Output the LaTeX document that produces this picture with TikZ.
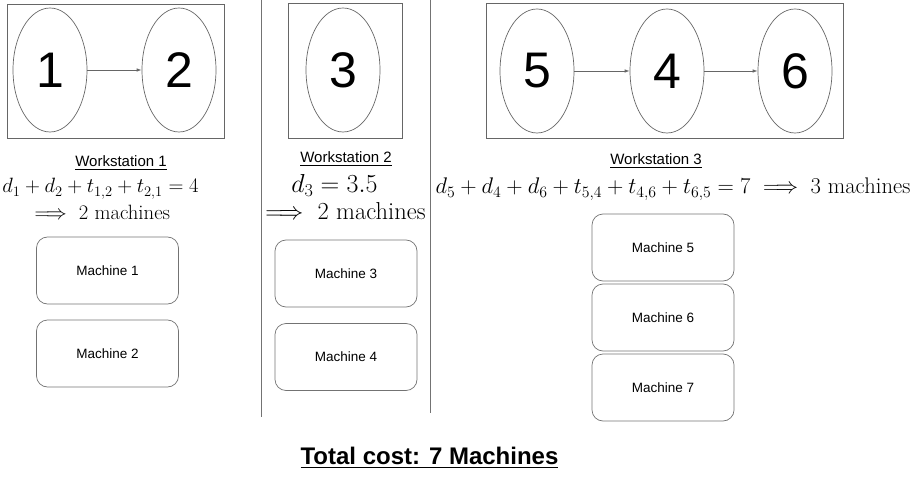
\RequirePackage{fix-cm}
\documentclass[tikz,border=0pt]{standalone}
\usepackage{fontspec}
\usepackage{amsmath}
\newfontfamily\arial{Liberation Sans}
\usetikzlibrary{arrows.meta,shapes.geometric}
\begin{document}
\begin{tikzpicture}[x=1pt,y=-1pt,
  grp/.style={draw=black!60, line width=0.8pt, inner sep=0pt},
  task/.style={ellipse, draw=black!60, line width=0.7pt, minimum width=74pt, minimum height=124pt, inner sep=0pt, font=\arial\fontsize{50}{60}\selectfont},
  link/.style={draw=black!60, line width=0.7pt, -{Latex[length=5pt,width=3.5pt]}},
  mach/.style={rounded corners=11pt, draw=black!55, line width=0.7pt, minimum width=142pt, minimum height=67pt, inner sep=0pt, font=\arial\fontsize{13.5}{16}\selectfont},
  wslabel/.style={anchor=base, inner sep=0pt, font=\arial\fontsize{15}{18}\selectfont},
  eq/.style={anchor=base, inner sep=0pt, font=\fontsize{20.7}{24}\selectfont},
  divider/.style={draw=black!55, line width=0.7pt}
]
\useasboundingbox (0,0) rectangle (917,478);
% group boxes
\node[grp, minimum width=217pt, minimum height=134pt] (g1) at (115.5,71) {};
\node[grp, minimum width=114pt, minimum height=135pt] (g2) at (345,70.5) {};
\node[grp, minimum width=357pt, minimum height=135pt] (g3) at (664.5,70.5) {};
% tasks
\node[task] (t1) at (50,70) {1};
\node[task] (t2) at (179,70) {2};
\node[task] (t3) at (343,70) {3};
\node[task] (t5) at (537,71) {5};
\node[task] (t4) at (667,71) {4};
\node[task] (t6) at (795,71) {6};
\draw[link] (t1) -- (t2);
\draw[link] (t5) -- (t4);
\draw[link] (t4) -- (t6);
% dividers
\coordinate (d1a) at (261,0);
\coordinate (d1b) at (261,417);
\coordinate (d2a) at (430,0);
\coordinate (d2b) at (430,413);
\draw[divider] (d1a) -- (d1b);
\draw[divider] (d2a) -- (d2b);
% labels
\node[wslabel] (w1) at (121,167) {\underline{Workstation 1}};
\node[wslabel] (w2) at (346,163) {\underline{Workstation 2}};
\node[wslabel] (w3) at (656,165) {\underline{Workstation 3}};
% equations
\node[eq] (e1a) at (100.5,193) {$d_1+d_2+t_{1,2}+t_{2,1}=4$};
\node[eq] (e1b) at (99.5,220) {$\implies$ 2 machines};
\node[eq, font=\fontsize{26}{30}\selectfont] (e2a) at (334.5,193) {$d_3=3.5$};
\node[eq, font=\fontsize{24.5}{28}\selectfont] (e2b) at (342,220) {$\implies$ 2 machines};
\node[eq, font=\fontsize{22.6}{26}\selectfont] (e3) at (673,194) {$d_5+d_4+d_6+t_{5,4}+t_{4,6}+t_{6,5}=7\implies 3$ machines};
% machines
\node[mach] (m1) at (107.5,270.5) {Machine 1};
\node[mach] (m2) at (107.5,353.5) {Machine 2};
\node[mach] (m3) at (346,273.5) {Machine 3};
\node[mach] (m4) at (346,357) {Machine 4};
\node[mach] (m5) at (663,247.5) {Machine 5};
\node[mach] (m6) at (663,317.5) {Machine 6};
\node[mach] (m7) at (663,387.5) {Machine 7};
% total
\node[inner sep=0pt, font=\arial\bfseries\fontsize{24}{28}\selectfont] (tot) at (429.5,458) {\underline{Total cost: 7 Machines}};
\end{tikzpicture}
\end{document}
